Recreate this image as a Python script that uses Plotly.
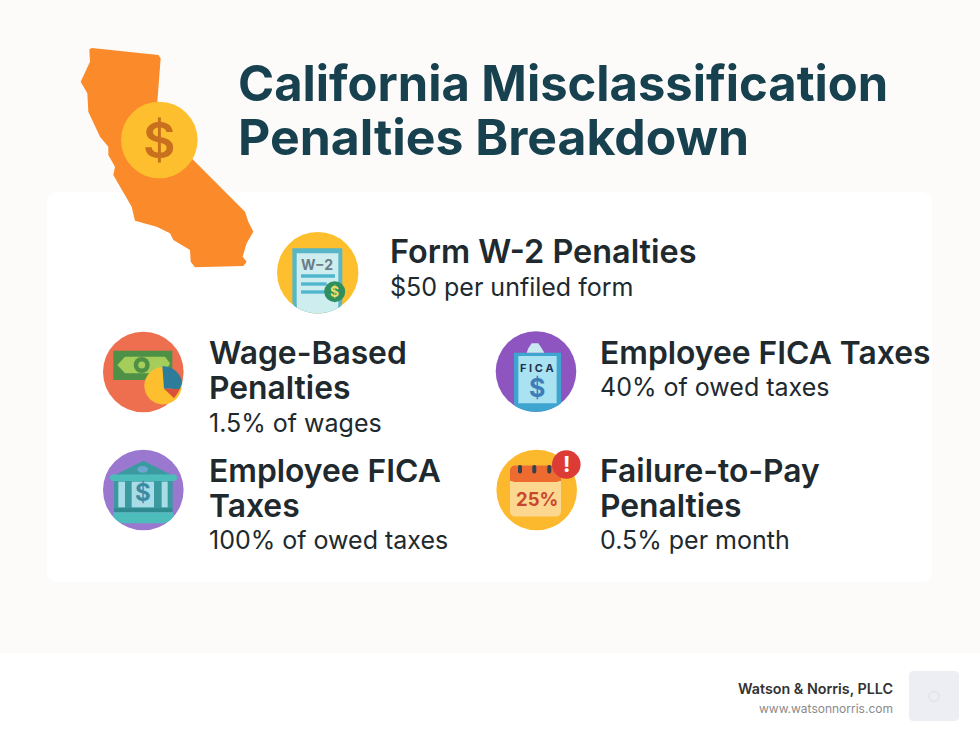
import math
import plotly.graph_objects as go

# ---- content ----
title_lines = ["California Misclassification", "Penalties Breakdown"]
heading_w2 = ["Form W-2 Penalties"]
heading_wage = ["Wage-Based", "Penalties"]
heading_fica_employee = ["Employee FICA Taxes"]
heading_fica_employer = ["Employee FICA", "Taxes"]
heading_ftp = ["Failure-to-Pay", "Penalties"]
detail_w2 = "$50 per unfiled form"
detail_wage = "1.5% of wages"
detail_fica_employee = "40% of owed taxes"
detail_fica_employer = "100% of owed taxes"
detail_ftp = "0.5% per month"
brand_name = "Watson & Norris, PLLC"
brand_url = "www.watsonnorris.com"

FONT = "Inter, 'Noto Sans', sans-serif"
INK = "#20292e"
TITLE = "#17414f"

shapes, notes = [], []


def path(pts, fill, line=None, lw=0):
    d = "M" + "L".join(f"{x:.2f},{y:.2f}" for x, y in pts) + "Z"
    shapes.append(dict(type="path", path=d, fillcolor=fill,
                       line=dict(color=line or fill, width=lw)))


def circle(cx, cy, r, fill):
    shapes.append(dict(type="circle", x0=cx - r, x1=cx + r, y0=cy - r, y1=cy + r,
                       fillcolor=fill, line=dict(width=0)))


def clipped(pts, cx, cy, r):
    out = []
    n = len(pts)
    for i in range(n):
        a, b = pts[i], pts[(i + 1) % n]
        for k in range(12):
            t = k / 12
            x, y = a[0] + (b[0] - a[0]) * t, a[1] + (b[1] - a[1]) * t
            d = math.hypot(x - cx, y - cy)
            if d > r:
                x, y = cx + (x - cx) * r / d, cy + (y - cy) * r / d
            out.append((x, y))
    return out


def rrect(x0, y0, x1, y1, r, fill, clip=None):
    pts = []
    for cx, cy, a0 in ((x1 - r, y0 + r, -90), (x1 - r, y1 - r, 0), (x0 + r, y1 - r, 90), (x0 + r, y0 + r, 180)):
        for k in range(9):
            a = math.radians(a0 + k * 90 / 8)
            pts.append((cx + r * math.cos(a), cy + r * math.sin(a)))
    if clip:
        pts = clipped(pts, *clip)
    path(pts, fill)


def text(x, y, s, size, color, weight=400, anchor="left"):
    notes.append(dict(x=x, y=y, text=s, showarrow=False, xanchor=anchor, yanchor="middle",
                      borderpad=0, align=anchor,
                      font=dict(family=FONT, size=size, color=color, weight=weight)))


def zoom(ox, oy):
    return lambda pts: [(ox + x / 3, oy + y / 3) for x, y in pts]


# ---- backgrounds ----
shapes.append(dict(type="rect", x0=0, x1=980, y0=0, y1=653, fillcolor="#fdfbf9", line=dict(width=0)))
shapes.append(dict(type="rect", x0=0, x1=980, y0=653, y1=736, fillcolor="#ffffff", line=dict(width=0)))
rrect(47, 192, 932, 582, 10, "#ffffff")

# ---- California ----
z = zoom(60, 30)
path(z([(88, 58), (96, 54), (295, 75), (302, 85), (292, 215), (300, 300), (400, 390), (555, 545), (565, 575),
        (580, 605), (560, 640), (548, 680), (560, 695), (550, 708), (405, 712), (392, 695),
        (390, 660), (340, 630), (330, 610), (290, 590), (225, 572), (215, 530), (160, 435),
        (165, 410), (145, 375), (145, 350), (120, 320), (85, 245), (82, 190), (62, 155),
        (90, 95)]), "#fb8a2b")
circle(159.3, 140, 38.3, "#fdbf2d")
text(159.3, 140, "$", 50, "#c8701e", 600, "center")

# ---- W-2 icon ----
C = (317.7, 272.7, 40.7)
circle(*C, "#fdbf2d")
z = zoom(60, 30)
path(clipped(z([(697, 655), (847, 655), (847, 850), (697, 850)]), *C), "#58b6c6")
path(clipped(z([(710, 670), (835, 670), (835, 850), (710, 850)]), *C), "#cdedee")
for x1, y in ((825, 738), (800, 762), (795, 786)):
    path(z([(723, y - 5), (x1, y - 5), (x1, y + 5), (723, y + 5)]), "#4fb6cf")
text(316.5, 264, "<b>W−2</b>", 14, "#6b7d88", 700, "center")
circle(334.7, 291.7, 10.5, "#2f8f5f")
text(334.7, 291.7, "<b>$</b>", 14, "#e8dc6a", 700, "center")

# ---- wage icon ----
C = (143.3, 372, 40.3)
circle(*C, "#ee6f4f")
z = zoom(90, 320)
path(z([(70, 92), (247, 92), (247, 180), (70, 180)]), "#4e9146")
path(z([(82, 135), (105, 110), (225, 110), (240, 130), (225, 160), (105, 160)]), "#a5cd5a")
circle(141.7, 365, 8, "#4e9146")
circle(141.7, 365, 3.5, "#a5cd5a")
pie = (163, 385.7, 18.7)
circle(*pie, "#fdbf2d")
wedge = lambda a0, a1: [(pie[0] + 1, pie[1] + 3)] + [
    (pie[0] + 19.5 * math.cos(math.radians(a0 + (a1 - a0) * k / 16)),
     pie[1] + 19.5 * math.sin(math.radians(a0 + (a1 - a0) * k / 16))) for k in range(17)]
path(clipped(wedge(-92, 10), *C), "#2d7d9a")
path(clipped(wedge(10, 48), *C), "#d9513a")

# ---- employer FICA (bank) icon ----
C = (143.3, 490, 40.3)
circle(*C, "#9b78cf")
z = zoom(90, 320)
path(z([(72, 483), (248, 483), (248, 568), (72, 568)]), "#3a9aa0")
path(z([(75, 465), (160, 422), (245, 465)]), "#3a9aa0")
shapes.append(dict(type="circle", x0=90 + 142 / 3, x1=90 + 174 / 3, y0=320 + 438 / 3, y1=320 + 458 / 3,
                   fillcolor="#6da5d0", line=dict(width=0)))
rrect(110, 474.5, 177, 481, 3, "#4dbdbb")
for x0, x1 in ((85, 105), (125, 192), (215, 233)):
    path(z([(x0, 485), (x1, 485), (x1, 562), (x0, 562)]), "#a8dde8")
text(143, 492, "<b>$</b>", 24, "#3c8ba5", 700, "center")
path(z([(72, 565), (248, 565), (248, 577), (72, 577)]), "#2f8a90")
path(clipped(z([(70, 577), (250, 577), (250, 610), (70, 610)]), *C), "#4dbdbb")

# ---- employee FICA (clipboard) icon ----
C = (536, 371.6, 40.3)
circle(*C, "#8e55c0")
z = zoom(485, 320)
path(clipped(z([(87, 98), (228, 98), (228, 280), (87, 280)]), *C), "#3ea5d0")
path(z([(100, 108), (215, 108), (215, 250), (100, 250)]), "#a9e2f0")
path(z([(125, 98), (130, 85), (140, 70), (160, 70), (170, 85), (178, 98)]), "#c9e8f0")
text(537, 368, "<b>F I C A</b>", 11, "#1f3350", 700, "center")
text(537, 388, "<b>$</b>", 25, "#3f7db8", 700, "center")

# ---- failure-to-pay icon ----
C = (536.7, 490, 40.3)
circle(*C, "#fdb92e")
rrect(510, 466, 561, 516.5, 5, "#fbd78f")
rrect(510, 465.5, 561, 482, 5, "#ee6b2f")
path(zoom(485, 320)([(75, 465), (228, 465), (228, 483), (75, 483)]), "#ee6b2f")
for x in (520, 534.3, 549.3):
    rrect(x - 2, 465, x + 2, 473.5, 2, "#33424f")
text(537, 499, "25%", 18.5, "#c9472f", 700, "center")
circle(566.3, 464.5, 14.3, "#dd3b35")
text(566, 464, "<b>!</b>", 22, "#ffffff", 700, "center")

# ---- title ----
text(236.5, 83, title_lines[0], 48.9, TITLE, 700)
text(236.5, 137, title_lines[1], 49.9, TITLE, 700)

# ---- blocks ----
HEAD, BODY = 31.8, 25
LX, RX = 207.5, 598.5
text(388.5, 251, heading_w2[0], 32.4, INK, 600)
text(388.5, 287, detail_w2, BODY, INK)
text(LX, 352, heading_wage[0], HEAD, INK, 600)
text(LX, 387, heading_wage[1], HEAD, INK, 600)
text(LX, 423, detail_wage, BODY, INK)
text(RX, 352, heading_fica_employee[0], HEAD, INK, 600)
text(RX, 387, detail_fica_employee, BODY, INK)
text(LX, 470, heading_fica_employer[0], HEAD, INK, 600)
text(LX, 505, heading_fica_employer[1], HEAD, INK, 600)
text(LX, 540, detail_fica_employer, BODY, INK)
text(RX, 470, heading_ftp[0], HEAD, INK, 600)
text(RX, 505, heading_ftp[1], HEAD, INK, 600)
text(RX, 540, detail_ftp, BODY, INK)

# ---- footer ----
text(894, 688, brand_name, 14.3, "#333333", 600, "right")
text(894, 708, brand_url, 12, "#8a8a8a", 400, "right")
rrect(909, 671, 959, 721, 4, "#edeef3")
circle(934, 696.5, 6, "#e4e4ea")
circle(934, 696.5, 4, "#edeef3")

fig = go.Figure()
fig.update_layout(
    width=980, height=736, margin=dict(l=0, r=0, t=0, b=0),
    paper_bgcolor="#ffffff", plot_bgcolor="#ffffff",
    xaxis=dict(range=[0, 980], visible=False, fixedrange=True),
    yaxis=dict(range=[736, 0], visible=False, fixedrange=True),
    shapes=shapes, annotations=notes, showlegend=False,
)
fig.write_html("out.html", config=dict(displayModeBar=False),
               post_script="document.body.style.margin='0';document.body.style.overflow='hidden';")
